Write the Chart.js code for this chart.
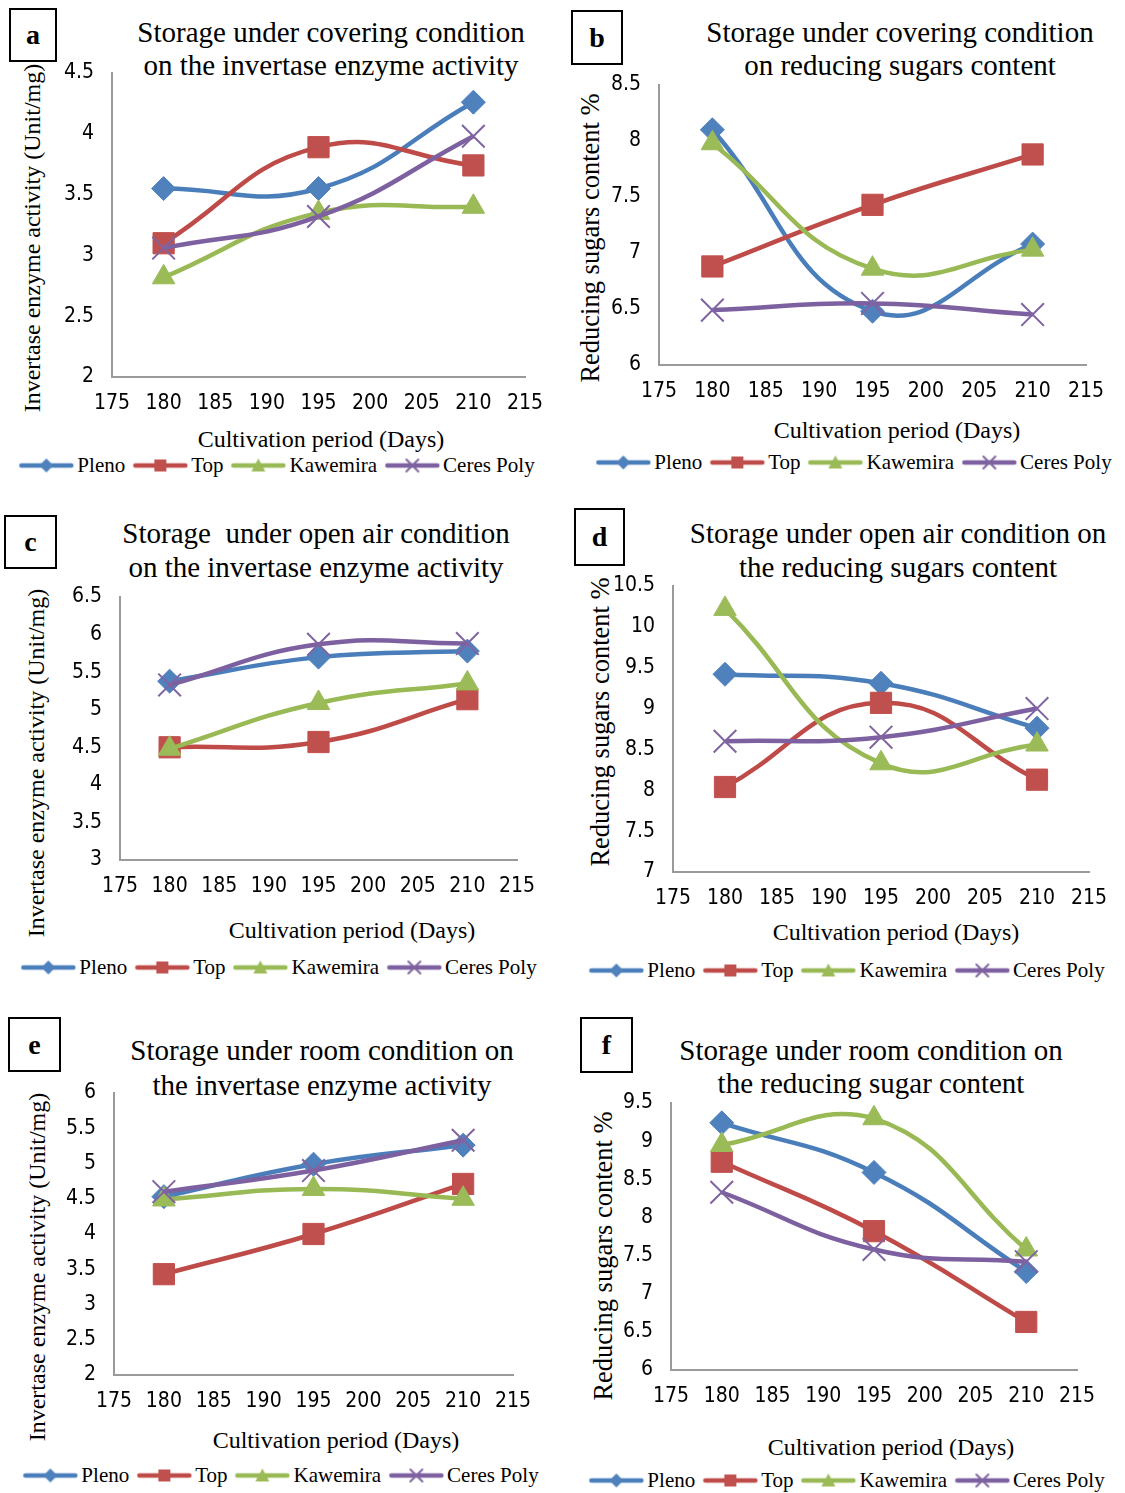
<!DOCTYPE html>
<html>
<head>
<meta charset="utf-8">
<script src="https://cdn.jsdelivr.net/npm/chart.js@4.4.1/dist/chart.umd.min.js"></script>
<style>
html, body { margin: 0; padding: 0; background: #fff; }
#page { position: relative; width: 1125px; height: 1493px; overflow: hidden; }
#page canvas.chart { position: absolute; }
.txt { position: absolute; white-space: pre; font-family: 'Liberation Serif', 'Times New Roman', serif; color: #000; line-height: 1; }
.box { position: absolute; border: 2px solid #000; box-sizing: border-box; font: bold 28px 'Liberation Serif', serif; display: flex; align-items: center; justify-content: center; }
.legend { position: absolute; display: flex; align-items: center; transform: translate(-50%, -50%); font: 21px 'Liberation Serif', serif; white-space: nowrap; }
.legend span { margin: 0 7px 0 3px; }
</style>
</head>
<body>
<div id="page"></div>
<script>
// data
const varieties = ["Pleno", "Top", "Kawemira", "Ceres Poly"];
const days = [180, 195, 210];
const xRange = [175, 215, 5];

// a - covering, invertase
const coverInvertase = [
    [3.55, 3.55, 4.26],
    [3.10, 3.89, 3.74],
    [2.82, 3.35, 3.40],
    [3.06, 3.32, 3.98]
];
const coverInvertaseY = [2, 4.5, 0.5];

// b - covering, reducing sugars
const coverSugars = [
    [8.10, 6.48, 7.08],
    [6.88, 7.43, 7.88],
    [7.98, 6.86, 7.03],
    [6.49, 6.55, 6.45]
];
const coverSugarsY = [6, 8.5, 0.5];

// c - open air, invertase
const openInvertase = [
    [5.38, 5.70, 5.78],
    [4.50, 4.57, 5.14],
    [4.48, 5.09, 5.35],
    [5.33, 5.87, 5.88]
];
const openInvertaseY = [3, 6.5, 0.5];

// d - open air, reducing sugars
const openSugars = [
    [9.42, 9.31, 8.76],
    [8.04, 9.07, 8.13],
    [10.22, 8.33, 8.56],
    [8.60, 8.65, 9.00]
];
const openSugarsY = [7, 10.5, 0.5];

// e - room, invertase
const roomInvertase = [
    [4.53, 4.99, 5.26],
    [3.43, 4.00, 4.71],
    [4.49, 4.64, 4.50],
    [4.60, 4.90, 5.33]
];
const roomInvertaseY = [2, 6, 0.5];

// f - room, reducing sugars
const roomSugars = [
    [9.24, 8.59, 7.29],
    [8.73, 7.82, 6.63],
    [8.95, 9.30, 7.58],
    [8.33, 7.58, 7.42]
];
const roomSugarsY = [6, 9.5, 0.5];

const lineColors = ["#4A7EBB", "#BE4B48", "#98B954", "#7D60A0"];
const markColors = ["#4F81BD", "#C0504D", "#9BBB59", "#8064A2"];
const pointStyles = ["rectRot", "rect", "triangle", "crossRot"];
const pointSizes = [12, 15, 13, 16];

const xLabel = "Cultivation period (Days)";
const invLabel = "Invertase enzyme activity (Unit/mg)";
const sugLabel = "Reducing sugars content %";

const tickFont = "'Liberation Sans Narrow', 'DejaVu Sans Condensed', 'Noto Sans', sans-serif";

const panels = [
    { letter: "a", values: coverInvertase, y: coverInvertaseY,
      title: ["Storage under covering condition", "on the invertase enzyme activity"], yLabel: invLabel,
      canvas: [0, 0, 562, 495], plot: [112, 73, 525, 377], box: [9, 8, 48, 54],
      titlePos: [331, 32, 65], yTitle: [32, 238, 24], xTitle: [321, 439], legend: [280, 465] },
    { letter: "b", values: coverSugars, y: coverSugarsY,
      title: ["Storage under covering condition", "on reducing sugars content"], yLabel: sugLabel,
      canvas: [562, 0, 563, 495], plot: [659, 85, 1086, 365], box: [571, 10, 52, 55],
      titlePos: [900, 32, 65], yTitle: [590, 238, 26.5], xTitle: [897, 430], legend: [857, 462] },
    { letter: "c", values: openInvertase, y: openInvertaseY,
      title: ["Storage  under open air condition", "on the invertase enzyme activity"], yLabel: invLabel,
      canvas: [0, 495, 562, 505], plot: [120, 597, 517, 860], box: [4, 515, 53, 54],
      titlePos: [316, 533, 567], yTitle: [36, 763, 24], xTitle: [352, 930], legend: [282, 967] },
    { letter: "d", values: openSugars, y: openSugarsY,
      title: ["Storage under open air condition on", "the reducing sugars content"], yLabel: sugLabel,
      canvas: [562, 495, 563, 505], plot: [673, 586, 1089, 872], box: [574, 508, 51, 58],
      titlePos: [898, 533, 567], yTitle: [600, 722, 26.5], xTitle: [896, 932], legend: [850, 970] },
    { letter: "e", values: roomInvertase, y: roomInvertaseY,
      title: ["Storage under room condition on", "the invertase enzyme activity"], yLabel: invLabel,
      canvas: [0, 1000, 562, 493], plot: [114, 1093, 513, 1375], box: [8, 1017, 53, 55],
      titlePos: [322, 1050, 1085], yTitle: [37, 1267, 24], xTitle: [336, 1440], legend: [284, 1475] },
    { letter: "f", values: roomSugars, y: roomSugarsY,
      title: ["Storage under room condition on", "the reducing sugar content"], yLabel: sugLabel,
      canvas: [562, 1000, 563, 493], plot: [671, 1103, 1077, 1370], box: [580, 1017, 53, 56],
      titlePos: [871, 1050, 1083], yTitle: [603, 1256, 26.5], xTitle: [891, 1447], legend: [850, 1480] }
];

const page = document.getElementById("page");

function addText(str, x, y, size, rotate) {
    const d = document.createElement("div");
    d.className = "txt";
    d.textContent = str;
    d.style.fontSize = size + "px";
    d.style.left = x + "px";
    d.style.top = y + "px";
    d.style.transform = "translate(-50%, -50%)" + (rotate ? " rotate(-90deg)" : "");
    page.appendChild(d);
}

function legendIcon(i) {
    const c = document.createElement("canvas");
    c.width = 56;
    c.height = 20;
    const ctx = c.getContext("2d");
    ctx.strokeStyle = lineColors[i];
    ctx.lineWidth = 4.5;
    ctx.lineCap = "round";
    ctx.beginPath();
    ctx.moveTo(3, 10);
    ctx.lineTo(53, 10);
    ctx.stroke();
    ctx.fillStyle = markColors[i];
    ctx.strokeStyle = markColors[i];
    ctx.lineWidth = 2;
    ctx.beginPath();
    if (i === 0) {
        ctx.moveTo(28, 3); ctx.lineTo(35, 10); ctx.lineTo(28, 17); ctx.lineTo(21, 10);
        ctx.closePath(); ctx.fill();
    } else if (i === 1) {
        ctx.rect(22, 4, 12, 12); ctx.fill();
    } else if (i === 2) {
        ctx.moveTo(28, 3); ctx.lineTo(35, 16); ctx.lineTo(21, 16);
        ctx.closePath(); ctx.fill();
    } else {
        ctx.moveTo(22, 4); ctx.lineTo(34, 16); ctx.moveTo(34, 4); ctx.lineTo(22, 16);
        ctx.stroke();
    }
    return c;
}

function makePanel(p) {
    // label box
    const b = document.createElement("div");
    b.className = "box";
    b.textContent = p.letter;
    b.style.left = p.box[0] + "px";
    b.style.top = p.box[1] + "px";
    b.style.width = p.box[2] + "px";
    b.style.height = p.box[3] + "px";
    page.appendChild(b);

    addText(p.title[0], p.titlePos[0], p.titlePos[1], 29);
    addText(p.title[1], p.titlePos[0], p.titlePos[2], 29);
    addText(p.yLabel, p.yTitle[0], p.yTitle[1], p.yTitle[2], true);
    addText(xLabel, p.xTitle[0], p.xTitle[1], 24);

    const lg = document.createElement("div");
    lg.className = "legend";
    lg.style.left = p.legend[0] + "px";
    lg.style.top = p.legend[1] + "px";
    varieties.forEach(function (name, i) {
        lg.appendChild(legendIcon(i));
        const s = document.createElement("span");
        s.textContent = name;
        lg.appendChild(s);
    });
    page.appendChild(lg);

    const cv = document.createElement("canvas");
    cv.className = "chart";
    cv.width = p.canvas[2];
    cv.height = p.canvas[3];
    cv.style.left = p.canvas[0] + "px";
    cv.style.top = p.canvas[1] + "px";
    page.appendChild(cv);

    const yW = 60, xH = 40;
    const datasets = varieties.map(function (name, i) {
        return {
            label: name,
            data: days.map(function (d, j) { return { x: d, y: p.values[i][j] }; }),
            borderColor: lineColors[i],
            backgroundColor: markColors[i],
            pointBackgroundColor: markColors[i],
            pointBorderColor: markColors[i],
            pointBorderWidth: i === 3 ? 2 : 1,
            pointStyle: pointStyles[i],
            pointRadius: pointSizes[i],
            borderWidth: 4.5,
            tension: 0.45,
            order: 3 - i
        };
    });

    new Chart(cv, {
        type: "line",
        data: { datasets: datasets },
        options: {
            responsive: false,
            animation: false,
            devicePixelRatio: 1,
            layout: {
                padding: {
                    left: p.plot[0] - p.canvas[0] - yW,
                    top: p.plot[1] - p.canvas[1],
                    right: p.canvas[0] + p.canvas[2] - p.plot[2],
                    bottom: p.canvas[1] + p.canvas[3] - p.plot[3] - xH
                }
            },
            plugins: { legend: { display: false }, tooltip: { enabled: false } },
            scales: {
                x: {
                    type: "linear",
                    min: xRange[0],
                    max: xRange[1],
                    afterFit: function (s) { s.height = xH; },
                    grid: { display: false, drawTicks: false },
                    border: { color: "#9a9a9a", width: 2 },
                    ticks: { stepSize: xRange[2], autoSkip: false, maxRotation: 0, padding: 14,
                             color: "#000", font: { family: tickFont, size: 21 } }
                },
                y: {
                    min: p.y[0],
                    max: p.y[1],
                    afterFit: function (s) { s.width = yW; },
                    grid: { display: false, drawTicks: false },
                    border: { color: "#9a9a9a", width: 2 },
                    ticks: { stepSize: p.y[2], padding: 18, color: "#000",
                             font: { family: tickFont, size: 21 },
                             callback: function (v) { return String(Math.round(v * 10) / 10); } }
                }
            }
        }
    });
}

panels.forEach(makePanel);
</script>
</body>
</html>
